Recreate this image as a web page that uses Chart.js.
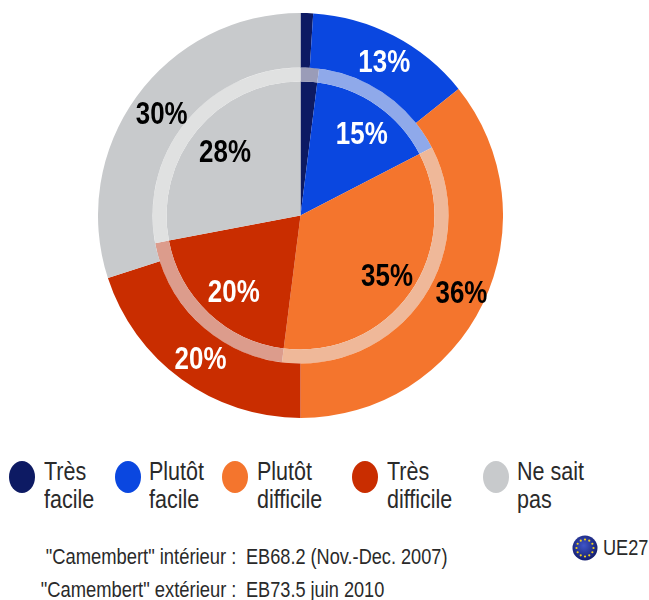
<!DOCTYPE html>
<html>
<head>
<meta charset="utf-8">
<script src="https://cdn.jsdelivr.net/npm/chart.js@4"></script>
<style>
  html, body { margin: 0; background: #fff; overflow: hidden; }
  body { position: relative; width: 649px; height: 600px; font-family: "Liberation Sans", sans-serif; color: #2a2a2a; }
  #pie { position: absolute; left: 98px; top: 13px; }
  .dot { position: absolute; top: 461px; width: 26px; height: 32px; border-radius: 50%; }
  /* no narrow font here, so squeeze the regular one */
  .leg { position: absolute; top: 457px; font-size: 25px; line-height: 28px; white-space: pre; transform: scaleX(0.86); transform-origin: left top; }
  .note { position: absolute; font-size: 22px; line-height: 26px; white-space: pre; transform: scaleX(0.825); transform-origin: left top; }
  .note.r { transform: scaleX(0.835); transform-origin: right top; }
  #flag { position: absolute; left: 572px; top: 535px; }
</style>
</head>
<body>
<canvas id="pie" width="405" height="405"></canvas>
<div id="legend"></div>
<div class="note r" style="right:413px;top:544px">"Camembert" intérieur :</div>
<div class="note" style="left:246px;top:544px">EB68.2 (Nov.-Dec. 2007)</div>
<div class="note r" style="right:413px;top:577px">"Camembert" extérieur :</div>
<div class="note" style="left:246px;top:577px">EB73.5 juin 2010</div>
<svg id="flag" width="26" height="26" viewBox="-13 -13 26 26">
  <defs><radialGradient id="g" cx="45%" cy="40%" r="60%"><stop offset="0" stop-color="#3f55c8"/><stop offset="1" stop-color="#131d6e"/></radialGradient></defs>
  <circle r="12.5" fill="url(#g)"/>
  <g id="stars" fill="#f2d21e"></g>
</svg>
<div class="note" style="left:603px;top:535px">UE27</div>

<script>
const categories = ["Très\nfacile", "Plutôt\nfacile", "Plutôt\ndifficile", "Très\ndifficile", "Ne sait\npas"];
const outerValues = [1, 13.25, 35.75, 20, 30];   // EB73.5 juin 2010
const innerValues = [2, 15.4, 34.6, 20, 28];     // EB68.2 2007
const colors = ["#0d1a63", "#0a47e0", "#f4752d", "#c92d00", "#c8cacc"];
const ringColors = ["#9a9cb8", "#8fa9ea", "#efb899", "#dc9c8c", "#e0e1e1"];
const labelColors = ["#fff", "#fff", "#000", "#fff", "#000"];
const legendTextLeft = [44, 149, 257, 387, 517];
const legendDotLeft = [9, 115, 222, 352, 483];

// legend is plain html, the dots are ovals in the original
let legend = document.getElementById("legend");
categories.forEach((c, i) => {
    let d = document.createElement("div");
    d.className = "dot";
    d.style.left = legendDotLeft[i] + "px";
    d.style.background = colors[i];
    legend.appendChild(d);
    let t = document.createElement("div");
    t.className = "leg";
    t.style.left = legendTextLeft[i] + "px";
    t.textContent = c;
    legend.appendChild(t);
});

// 12 stars on the little flag
let stars = "";
for (let i = 0; i < 12; i++) {
    let a = i * Math.PI / 6;
    stars += '<circle cx="' + (8.5 * Math.cos(a)).toFixed(2) + '" cy="' + (8.5 * Math.sin(a)).toFixed(2) + '" r="1.1"/>';
}
document.getElementById("stars").innerHTML = stars;

// percent labels, taken from the arcs so they follow the data
const sliceLabels = {
    id: "sliceLabels",
    afterDatasetsDraw(chart) {
        let ctx = chart.ctx;
        ctx.font = 'bold 32px "Liberation Sans", sans-serif';
        ctx.textAlign = "center";
        ctx.textBaseline = "middle";
        [0, 2].forEach(ds => {
            chart.getDatasetMeta(ds).data.forEach((arc, i) => {
                let v = chart.data.datasets[ds].data[i];
                if (v < 5) return;
                let mid = (arc.startAngle + arc.endAngle) / 2;
                // inner labels sit further out than the slice centre
                let r = ds === 0 ? (arc.innerRadius + arc.outerRadius) / 2 : arc.outerRadius * 0.76;
                ctx.save();
                ctx.translate(arc.x + r * Math.cos(mid) + 3, arc.y + r * Math.sin(mid) + 3);
                ctx.scale(0.81, 1);
                ctx.fillStyle = labelColors[i];
                ctx.fillText(Math.round(v) + "%", 0, 0);
                ctx.restore();
            });
        });
    }
};

new Chart(document.getElementById("pie"), {
    type: "doughnut",
    data: {
        labels: categories,
        datasets: [
            { data: outerValues, backgroundColor: colors, borderWidth: 0, weight: 54.5 },
            { data: innerValues, backgroundColor: ringColors, borderWidth: 0, weight: 14 },
            { data: innerValues, backgroundColor: colors, borderWidth: 0, weight: 134 }
        ]
    },
    options: {
        responsive: false,
        animation: false,
        cutout: 0,
        plugins: { legend: { display: false }, tooltip: { enabled: false } }
    },
    plugins: [sliceLabels]
});
</script>
</body>
</html>
